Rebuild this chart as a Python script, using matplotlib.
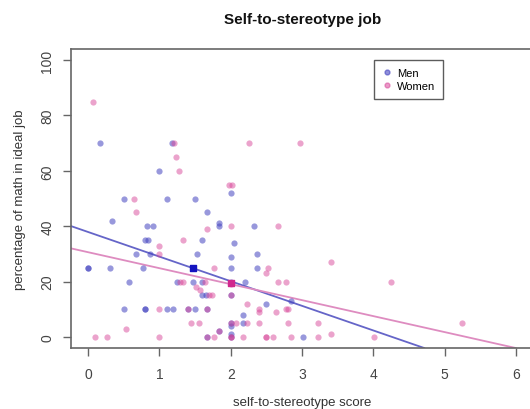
import matplotlib
matplotlib.use("Agg")
import matplotlib.pyplot as plt
from matplotlib.lines import Line2D

plt.rcParams['font.family'] = ['Liberation Sans', 'DejaVu Sans']

# Men (score, % math)
men_x = [0.16, 0.34, 0.50, 0.83, 0.91, 1.00, 1.11, 1.17, 1.50, 1.67, 1.84, 1.84, 2.00, 2.33,
         0.80, 0.84, 1.60, 2.04, 0.67, 0.87, 1.53, 2.01, 2.37,
         0.00, 0.00, 0.30, 0.77, 2.00, 2.37,
         0.57, 1.24, 1.47, 1.60, 2.00, 2.20,
         1.60, 1.65, 2.00, 2.84, 2.50,
         0.50, 0.80, 0.80, 1.11, 1.19, 1.40, 1.50, 1.67, 2.17,
         2.00, 2.17, 2.00, 1.84, 2.00, 1.67, 2.00, 3.01]
men_y = [70, 42, 50, 40, 40, 60, 50, 70, 50, 45, 41, 40, 52, 40,
         35, 35, 35, 34, 30, 30, 30, 29, 30,
         25, 25, 25, 25, 25, 25,
         20, 20, 20, 20, 20, 20,
         15, 15, 15, 13, 12,
         10, 10, 10, 10, 10, 10, 10, 10, 8,
         5, 5, 4, 2, 1, 0, 0, 0]

# Women (score, % math)
women_x = [0.07, 1.20, 2.26, 2.97, 1.23, 1.27, 1.97, 2.02, 0.64, 0.67, 1.67, 2.00, 2.67,
           1.33, 1.00, 1.00, 1.77, 2.53, 2.50, 3.40,
           1.29, 1.33, 1.64, 2.00, 2.67, 2.77, 4.25,
           1.51, 1.57, 1.70, 1.74, 2.00, 2.23,
           1.00, 1.40, 1.67, 2.40, 2.40, 2.64, 2.77, 2.81,
           0.53, 1.45, 1.55, 2.00, 2.07, 2.23, 2.40, 2.81, 3.23, 5.24,
           1.84, 3.40,
           0.10, 0.26, 1.00, 1.67, 1.77, 2.00, 2.00, 2.17, 2.50, 2.50, 2.60, 2.84, 3.23, 4.01]
women_y = [85, 70, 70, 70, 65, 60, 55, 55, 50, 45, 39, 40, 40,
           35, 33, 30, 25, 25, 23, 27,
           20, 20, 20, 19, 20, 20, 20,
           18, 17, 15, 15, 15, 12,
           10, 10, 10, 10, 9, 9, 10, 10,
           3, 5, 5, 5, 5, 5, 5, 5, 5, 5,
           2, 1,
           0, 0, 0, 0, 0, 0, 0, 0, 0, 0, 0, 0, 0, 0]

# Group means and regression lines (intercept, slope)
men_mean = (1.47, 24.9)
women_mean = (2.00, 19.3)
men_fit = (37.9, -8.89)
women_fit = (30.6, -5.77)

x_ticks = [0, 1, 2, 3, 4, 5, 6]
y_ticks = [0, 20, 40, 60, 80, 100]

blue_pt = '#4444c0'
pink_pt = '#d8489a'

fig = plt.figure(figsize=(5.3, 4.1), dpi=100)
ax = fig.add_axes([71/530, 1-349/410, 462/530, 299/410])
ax.set_xlim(-0.24, 6.24)
ax.set_ylim(-4, 104)

ax.scatter(men_x, men_y, s=20, color=blue_pt, alpha=0.55, linewidths=0, zorder=3)
ax.scatter(women_x, women_y, s=20, color=pink_pt, alpha=0.5, linewidths=0, zorder=3)

ax.axline((0, men_fit[0]), slope=men_fit[1], color='#6565c8', lw=1.3, zorder=2)
ax.axline((0, women_fit[0]), slope=women_fit[1], color='#de8cc0', lw=1.3, zorder=2)

ax.scatter([men_mean[0]], [men_mean[1]], marker='s', s=22, color='#1414c0', zorder=4)
ax.scatter([women_mean[0]], [women_mean[1]], marker='s', s=22, color='#d0288e', zorder=4)

for s in ax.spines.values():
    s.set_color('#666666')
    s.set_linewidth(1.2)

ax.set_xticks(x_ticks)
ax.set_yticks(y_ticks)
ax.set_yticklabels([str(v) for v in y_ticks], rotation=90, va='center')
ax.tick_params(axis='both', direction='out', length=6, width=1, color='#666666',
               labelcolor='#444444', labelsize=10)
ax.tick_params(axis='x', pad=8)
ax.tick_params(axis='y', pad=6)

fig.text(303/530, 1-20/410, 'Self-to-stereotype job', ha='center', va='center',
         fontsize=11, fontweight='bold', color='#111111')
fig.text(302/530, 1-403/410, 'self-to-stereotype score', ha='center', va='center',
         fontsize=9.5, color='#333333')
fig.text(20/530, 1-200/410, 'percentage of math in ideal job', ha='center', va='center',
         rotation=90, fontsize=9.5, color='#333333')

handles = [Line2D([], [], marker='o', ls='', color=blue_pt, alpha=0.6, markersize=3.5),
           Line2D([], [], marker='o', ls='', color=pink_pt, alpha=0.55, markersize=3.5)]
leg = ax.legend(handles, ['Men', 'Women'], loc='upper left',
                bbox_to_anchor=((374-71)/462, (349-61)/299), borderaxespad=0,
                fontsize=8, frameon=True, fancybox=False, handlelength=0.8,
                handletextpad=0.5, borderpad=0.75, labelspacing=0.25)
leg.get_frame().set_edgecolor('#333333')
leg.get_frame().set_linewidth(1.0)

fig.savefig('out.png', dpi=100)
